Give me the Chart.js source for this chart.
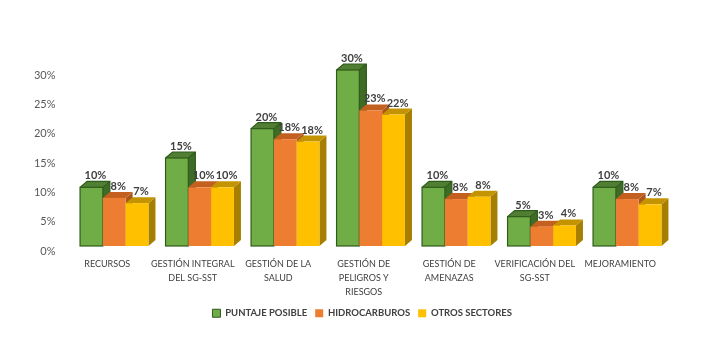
<!DOCTYPE html>
<html>
<head>
<meta charset="utf-8">
<script src="https://cdn.jsdelivr.net/npm/chart.js@4.4.0/dist/chart.umd.min.js"></script>
<style>
  html, body { margin: 0; padding: 0; background: #fff; }
  #wrap { width: 702px; height: 360px; }
</style>
</head>
<body>
<div id="wrap"><canvas id="sgsst"></canvas></div>
<script>
const categories = [
  "RECURSOS",
  ["GESTIÓN INTEGRAL", "DEL SG-SST"],
  ["GESTIÓN DE LA", "SALUD"],
  ["GESTIÓN DE", "PELIGROS Y", "RIESGOS"],
  ["GESTIÓN DE", "AMENAZAS"],
  ["VERIFICACIÓN DEL", "SG-SST"],
  "MEJORAMIENTO"
];
const seriesNames = ["PUNTAJE POSIBLE", "HIDROCARBUROS", "OTROS SECTORES"];
const puntajePosible = [10, 15, 20, 30, 10, 5, 10];
const hidrocarburos = [8.2, 10, 18.2, 23.1, 8, 3.3, 8];
const otrosSectores = [7.3, 10, 17.8, 22.4, 8.4, 3.5, 7.1];
const yTicks = [0, 5, 10, 15, 20, 25, 30];

// front, top, side, border
const palette = [
  { front: "#70AD47", top: "#507E32", side: "#3E6B25", border: "#2F5B1A" },
  { front: "#ED7D31", top: "#C4601F", side: "#AA561C", border: null },
  { front: "#FFC000", top: "#C49300", side: "#A67E00", border: null }
];

const DX = 7, DY = 6;

// draws the bars as 3d boxes, left to right so each front covers the previous side
const bars3d = {
  id: "bars3d",
  afterLayout(chart) {
    // legend sits a little right of centre in the original
    chart.legend.left += 10;
    chart.legend.right += 10;
  },
  beforeDatasetsDraw(chart) {
    const ctx = chart.ctx;
    const metas = chart.data.datasets.map((d, i) => chart.getDatasetMeta(i));
    ctx.save();
    for (let i = 0; i < categories.length; i++) {
      metas.forEach((meta, d) => {
        const bar = meta.data[i];
        const c = palette[d];
        const w = bar.width, l = bar.x - w / 2, r = bar.x + w / 2;
        const top = bar.y, base = bar.base;
        ctx.fillStyle = c.side;
        ctx.beginPath();
        ctx.moveTo(r, top); ctx.lineTo(r + DX, top - DY);
        ctx.lineTo(r + DX, base - DY); ctx.lineTo(r, base);
        ctx.closePath(); ctx.fill();
        ctx.fillStyle = c.top;
        ctx.beginPath();
        ctx.moveTo(l, top); ctx.lineTo(l + DX, top - DY);
        ctx.lineTo(r + DX, top - DY); ctx.lineTo(r, top);
        ctx.closePath(); ctx.fill();
        ctx.fillStyle = c.front;
        ctx.fillRect(l, top, w, base - top);
        if (c.border) {
          ctx.strokeStyle = c.border;
          ctx.lineWidth = 1.2;
          ctx.strokeRect(l, top, w, base - top);
          ctx.beginPath();
          ctx.moveTo(l, top); ctx.lineTo(l + DX, top - DY);
          ctx.lineTo(r + DX, top - DY); ctx.lineTo(r + DX, base - DY);
          ctx.moveTo(r, top); ctx.lineTo(r + DX, top - DY);
          ctx.stroke();
        }
      });
    }
    // value labels
    ctx.fillStyle = "#404040";
    ctx.font = "bold 11px Lato";
    ctx.textAlign = "center";
    ctx.textBaseline = "alphabetic";
    metas.forEach((meta, d) => {
      meta.data.forEach((bar, i) => {
        const v = chart.data.datasets[d].data[i];
        ctx.fillText(Math.round(v) + "%", bar.x + 4, bar.y - DY - 2);
      });
    });
    ctx.restore();
    return false;
  }
};

const ctx = document.getElementById("sgsst");

const sgsstChart = new Chart(ctx, {
  type: "bar",
  data: {
    labels: categories,
    datasets: [
      { label: seriesNames[0], data: puntajePosible, backgroundColor: palette[0].front },
      { label: seriesNames[1], data: hidrocarburos, backgroundColor: palette[1].front },
      { label: seriesNames[2], data: otrosSectores, backgroundColor: palette[2].front }
    ]
  },
  options: {
    responsive: true,
    maintainAspectRatio: false,
    animation: false,
    layout: {
      padding: { left: 34.5, right: 32, top: 70, bottom: 32 }
    },
    datasets: {
      bar: { categoryPercentage: 0.8, barPercentage: 1.0 }
    },
    scales: {
      x: {
        grid: { display: false, drawTicks: false },
        border: { display: false },
        afterFit: axis => {
          axis.height = 54.5;
          axis.paddingLeft = 0;
          axis.paddingRight = 0;
        },
        ticks: {
          color: "#404040",
          font: { family: "Lato", size: 9, lineHeight: 1.55 },
          padding: 11,
          labelOffset: -7,
          maxRotation: 0,
          autoSkip: false
        }
      },
      y: {
        min: 0,
        max: 30,
        afterBuildTicks: axis => {
          axis.ticks = yTicks.map(v => ({ value: v }));
        },
        afterFit: axis => {
          axis.width = 37;
        },
        grid: { display: false, drawTicks: false },
        border: { display: false },
        ticks: {
          color: "#595959",
          font: { family: "Lato", size: 11 },
          padding: 16,
          labelOffset: 5,
          callback: v => v + "%"
        }
      }
    },
    plugins: {
      tooltip: { enabled: false },
      legend: {
        position: "bottom",
        labels: {
          color: "#404040",
          font: { family: "Lato", size: 9.5, weight: "bold" },
          boxWidth: 8,
          boxHeight: 8,
          padding: 8,
          generateLabels: chart => seriesNames.map((name, i) => ({
            text: name,
            fillStyle: palette[i].front,
            strokeStyle: palette[i].border || palette[i].front,
            lineWidth: palette[i].border ? 1 : 0,
            fontColor: "#404040",
            datasetIndex: i,
            hidden: false
          }))
        }
      }
    }
  },
  plugins: [bars3d]
});
</script>
</body>
</html>
